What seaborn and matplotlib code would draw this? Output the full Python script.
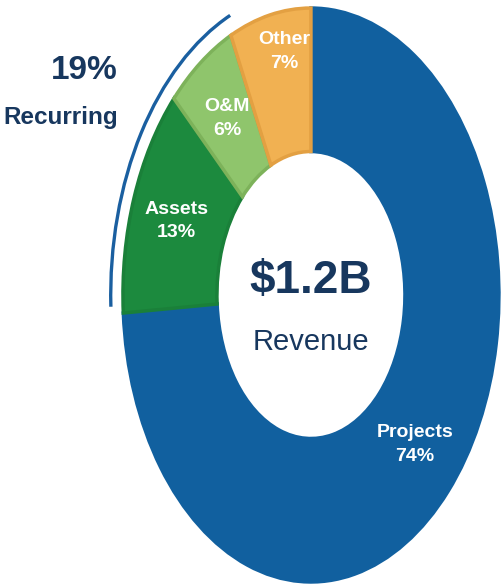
import numpy as np
import matplotlib
matplotlib.use("Agg")
import matplotlib.pyplot as plt
from matplotlib.patches import Arc
import seaborn as sns

# revenue mix, clockwise from 12 o'clock
segments = ["Projects", "Assets", "O&M", "Other"]
shares = [74, 13, 6, 7]
recurring = ["Assets", "O&M"]
total_label = "$1.2B"
total_sub = "Revenue"

colors = ["#11609f", "#1c8a3e", "#8fc56c", "#f1b152"]
edges = ["#11609f", "#1a8039", "#7db25a", "#e3a042"]
navy = "#17375e"

sns.set_style("white")
plt.rcParams['font.family'] = ['Liberation Sans', 'DejaVu Sans']

fig = plt.figure(figsize=(5.01, 5.86), dpi=100)
ax = fig.add_axes([0, 0, 1, 1])

wedges, _ = ax.pie(shares, colors=colors, startangle=90, counterclock=False,
                   radius=1, wedgeprops=dict(width=0.5, linewidth=2.5))
for w, ec in zip(wedges, edges):
    w.set_edgecolor(ec)

# the picture is stretched vertically, so let the axes stretch too
ax.set_aspect('auto')
ax.set_xlim(-1.654, 1.011)
ax.set_ylim(-1.014, 1.028)
ax.axis('off')

# labels in the ring
label_r = [0.76, 0.76, 0.76, 0.86]
label_nudge = [0, 0, 0, -3]  # degrees
start = 90.0
for name, val, r, nd in zip(segments, shares, label_r, label_nudge):
    span = val * 3.6
    mid = np.deg2rad(start - span / 2 + nd)
    start -= span
    ax.text(r * np.cos(mid), r * np.sin(mid), f"{name}\n{val}%",
            ha='center', va='center', color='white', fontsize=14,
            fontweight='bold', linespacing=1.5)

# arc over the recurring part
cum = np.cumsum([0] + shares)
i0 = segments.index(recurring[0])
i1 = segments.index(recurring[-1])
theta1 = 90 - cum[i1 + 1] * 3.6
theta2 = 90 - cum[i0] * 3.6
ax.add_patch(Arc((0, 0), 2.13, 2.13, theta1=theta1 - 1.4, theta2=theta2 - 1.4,
                 color="#1a5fa0", lw=2.4))

rec_pct = sum(shares[segments.index(s)] for s in recurring)
ax.text(-1.027, 0.784, f"{rec_pct}%", ha='right', va='center',
        color=navy, fontsize=24, fontweight='bold')
ax.text(-1.027, 0.617, "Recurring", ha='right', va='center',
        color=navy, fontsize=17.5, fontweight='bold')

ax.text(0, 0.05, total_label, ha='center', va='center', color=navy,
        fontsize=33, fontweight='bold')
ax.text(0, -0.164, total_sub, ha='center', va='center', color=navy,
        fontsize=21)

fig.savefig("out.png", dpi=100)
